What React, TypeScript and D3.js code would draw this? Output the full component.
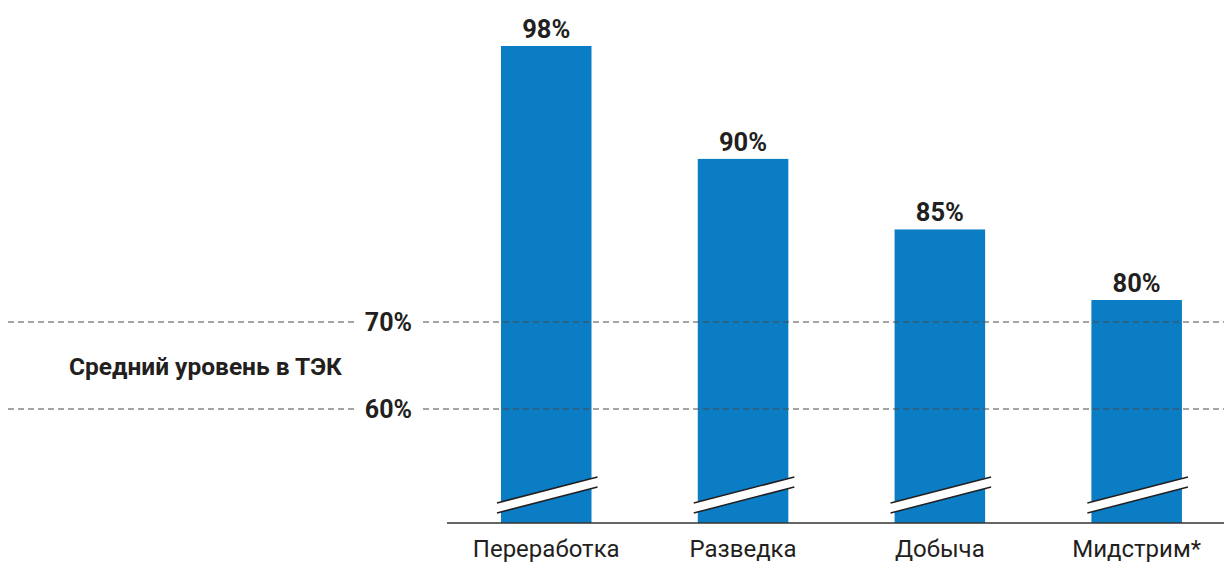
import React from "react";
import * as d3 from "d3";

const categories = ["Переработка", "Разведка", "Добыча", "Мидстрим*"];
const values = [98, 90, 85, 80];
const refLevels = [70, 60];
const refTitle = "Средний уровень в ТЭК";

const W = 1224;
const H = 562;
const baseY = 523;

export default function App() {
  const x = d3.scaleBand<string>().domain(categories).range([449.8, 1233.1]).paddingInner(0.54).paddingOuter(0.26);
  // broken-axis bar scale
  const y = d3.scaleLinear().domain([64.2, 98]).range([baseY, 46]);
  // scale for the average band reference lines
  const yRef = d3.scaleLinear().domain([60, 70]).range([409, 322]);
  const bw = x.bandwidth();
  const fam = "Roboto, 'Open Sans', sans-serif";
  const dark = "#231f20";

  return (
    <svg width={W} height={H} style={{ position: "absolute", left: 0, top: 0, display: "block" }}>
      <rect width={W} height={H} fill="#fff" />
      {categories.map((c, i) => {
        const x0 = x(c)!;
        const top = y(values[i]);
        const l = x0 - 4;
        const r = x0 + bw + 6;
        const yl1 = baseY - 20, yr1 = baseY - 46;
        const yl2 = baseY - 10, yr2 = baseY - 36;
        return (
          <g key={c}>
            <rect x={x0} y={top} width={bw} height={baseY - top} fill="#0a7dc5" />
            <polygon points={`${l},${yl1} ${r},${yr1} ${r},${yr2} ${l},${yl2}`} fill="#fff" />
            <line x1={l} y1={yl1} x2={r} y2={yr1} stroke={dark} strokeWidth={1.5} />
            <line x1={l} y1={yl2} x2={r} y2={yr2} stroke={dark} strokeWidth={1.5} />
            <text x={x0 + bw / 2} y={top - 8} textAnchor="middle" fontFamily={fam} fontWeight={700} fontSize={25.5} fill={dark}>
              {values[i]}%
            </text>
            <text x={x0 + bw / 2} y={baseY + 34} textAnchor="middle" fontFamily={fam} fontWeight={400} fontSize={24} fill={dark}>
              {c}
            </text>
          </g>
        );
      })}
      <line x1={447} x2={W} y1={baseY} y2={baseY} stroke="#333" strokeWidth={1.5} />
      {refLevels.map((v) => {
        const yy = yRef(v);
        return (
          <g key={v}>
            <line x1={8} x2={354} y1={yy} y2={yy} stroke="#4a4a4a" strokeWidth={1} strokeDasharray="6 4" />
            <line x1={423} x2={W} y1={yy} y2={yy} stroke="#4a4a4a" strokeWidth={1} strokeDasharray="6 4" />
            <text x={412} y={yy + 9} textAnchor="end" fontFamily={fam} fontWeight={700} fontSize={25} fill={dark}>
              {v}%
            </text>
          </g>
        );
      })}
      <text x={205.5} y={375} textAnchor="middle" fontFamily={fam} fontWeight={700} fontSize={24.5} fill={dark}>
        {refTitle}
      </text>
    </svg>
  );
}
